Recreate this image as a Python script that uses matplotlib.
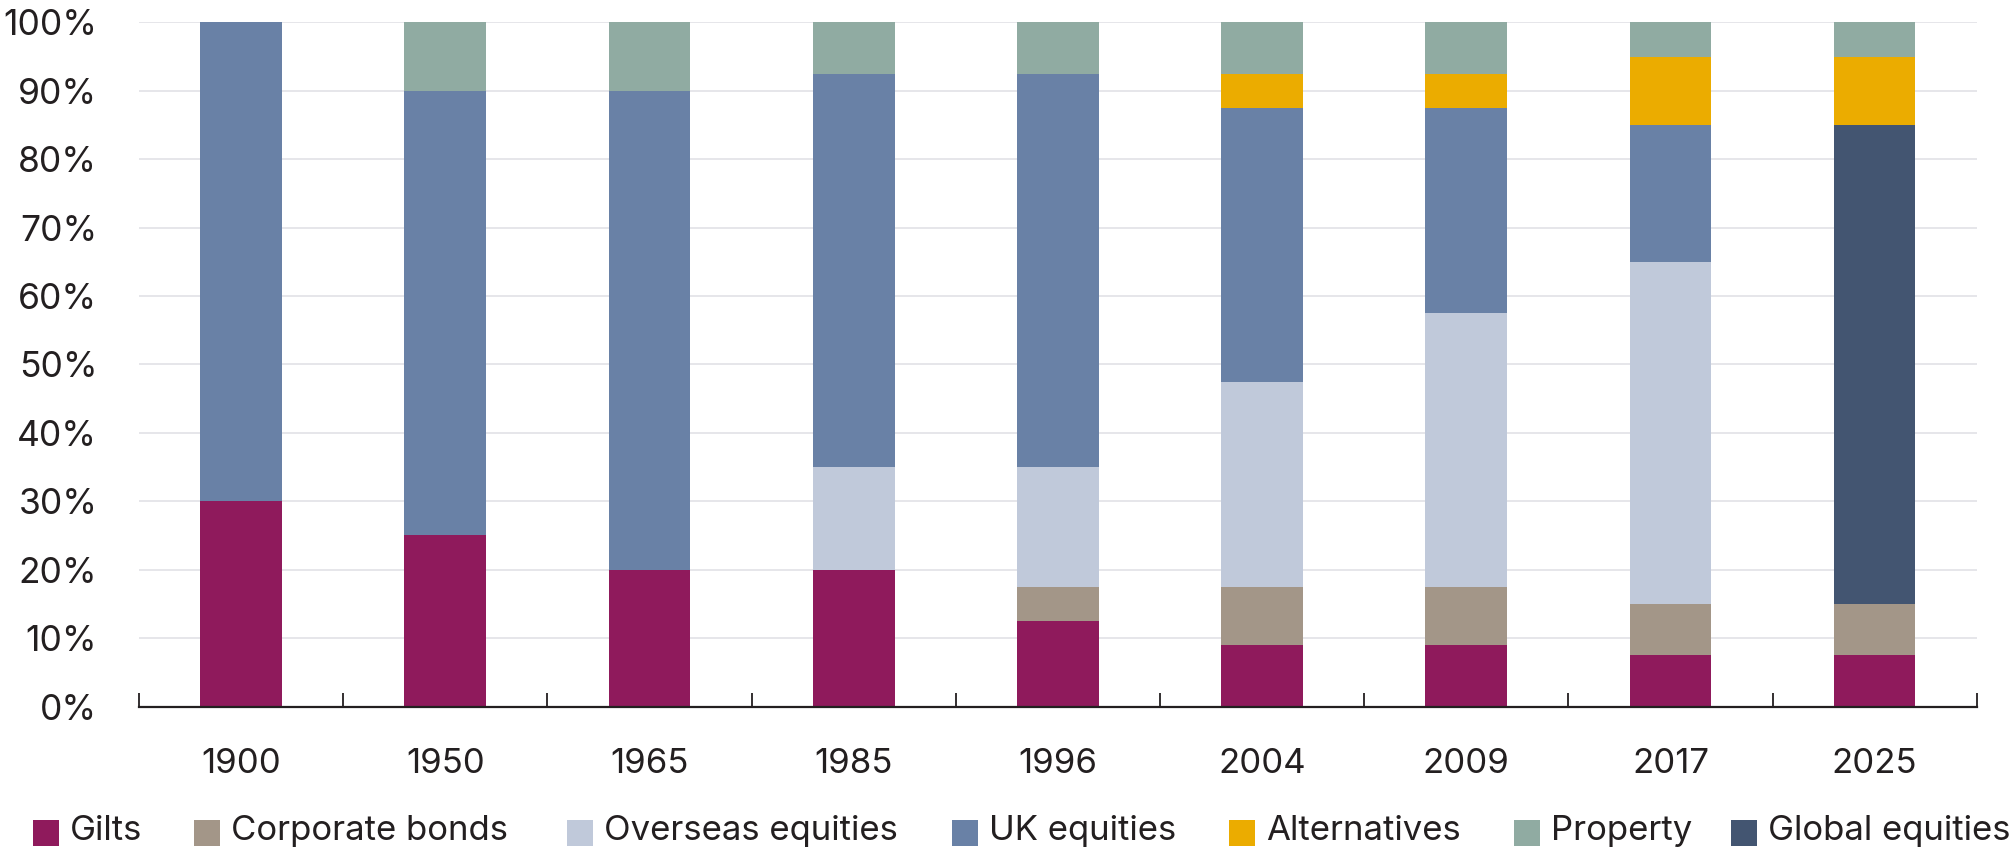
import numpy as np
import matplotlib
matplotlib.use('Agg')
import matplotlib.pyplot as plt
from matplotlib.patches import Rectangle

plt.rcParams['font.family'] = ['Inter', 'DejaVu Sans']

YEARS = ['1900', '1950', '1965', '1985', '1996', '2004', '2009', '2017', '2025']

# allocation shares (%) per year, bottom to top
GILTS      = [30, 25, 20, 20, 12.5, 9,  9,  7.5, 7.5]
CORP_BONDS = [0,  0,  0,  0,  5,    8.5, 8.5, 7.5, 7.5]
OVERSEAS   = [0,  0,  0,  15, 17.5, 30, 40, 50, 0]
UK_EQ      = [70, 65, 70, 57.5, 57.5, 40, 30, 20, 0]
GLOBAL_EQ  = [0,  0,  0,  0,  0,    0,  0,  0,  70]
ALTS       = [0,  0,  0,  0,  0,    5,  5,  10, 10]
PROPERTY   = [0,  10, 10, 7.5, 7.5, 7.5, 7.5, 5, 5]

SERIES = [
    ('Gilts',             GILTS,      '#8F1A5C'),
    ('Corporate bonds',   CORP_BONDS, '#A39688'),
    ('Overseas equities', OVERSEAS,   '#C0C9DA'),
    ('UK equities',       UK_EQ,      '#6981A6'),
    ('Global equities',   GLOBAL_EQ,  '#435571'),
    ('Alternatives',      ALTS,       '#EBAC00'),
    ('Property',          PROPERTY,   '#90ABA2'),
]
LEGEND_ORDER = ['Gilts', 'Corporate bonds', 'Overseas equities', 'UK equities',
                'Alternatives', 'Property', 'Global equities']

TEXT = '#231F20'
W, H = 2015, 851

fig = plt.figure(figsize=(W / 100, H / 100), dpi=100)
ax = fig.add_axes([0.069, 0.1698, 0.912, 0.804])

x = np.arange(len(YEARS))
bottom = np.zeros(len(YEARS))
colors = {}
for name, vals, col in SERIES:
    vals = np.array(vals, dtype=float)
    ax.bar(x, vals, 0.4, bottom=bottom, color=col, edgecolor='none', zorder=3)
    bottom += vals
    colors[name] = col

ax.set_xlim(-0.5, len(YEARS) - 0.5)
ax.set_ylim(0, 100)
ax.set_yticks(np.arange(0, 101, 10))
ax.set_yticklabels([f'{v}%' for v in range(0, 101, 10)])
ax.yaxis.grid(True, color='#E2E2E6', linewidth=1.2, zorder=0)
ax.set_axisbelow(True)

ax.set_xticks(x)
ax.set_xticklabels(YEARS)
ax.set_xticks(np.arange(-0.5, len(YEARS)), minor=True)
ax.tick_params(axis='x', which='major', length=0, pad=30, labelsize=25, labelcolor=TEXT)
ax.tick_params(axis='x', which='minor', direction='in', length=10, width=1.3, color=TEXT)
ax.tick_params(axis='y', length=0, pad=30, labelsize=25.5, labelcolor=TEXT)

for s in ['top', 'right', 'left']:
    ax.spines[s].set_visible(False)
ax.spines['bottom'].set_color(TEXT)
ax.spines['bottom'].set_linewidth(1.6)
ax.spines['bottom'].set_zorder(4)

# legend laid out by hand along the bottom row (pixel positions of the swatches)
swatch_x = [33, 194, 567, 952, 1229, 1514, 1731]
sw, sw_top, text_base = 26, 820, 840
for name, px in zip(LEGEND_ORDER, swatch_x):
    fig.add_artist(Rectangle((px / W, (H - sw_top - sw) / H), sw / W, sw / H,
                             facecolor=colors[name], edgecolor='none',
                             transform=fig.transFigure))
    fig.text((px + 37) / W, (H - text_base) / H, name, fontsize=25, color=TEXT,
             ha='left', va='baseline')

fig.savefig('out.png', dpi=100)
